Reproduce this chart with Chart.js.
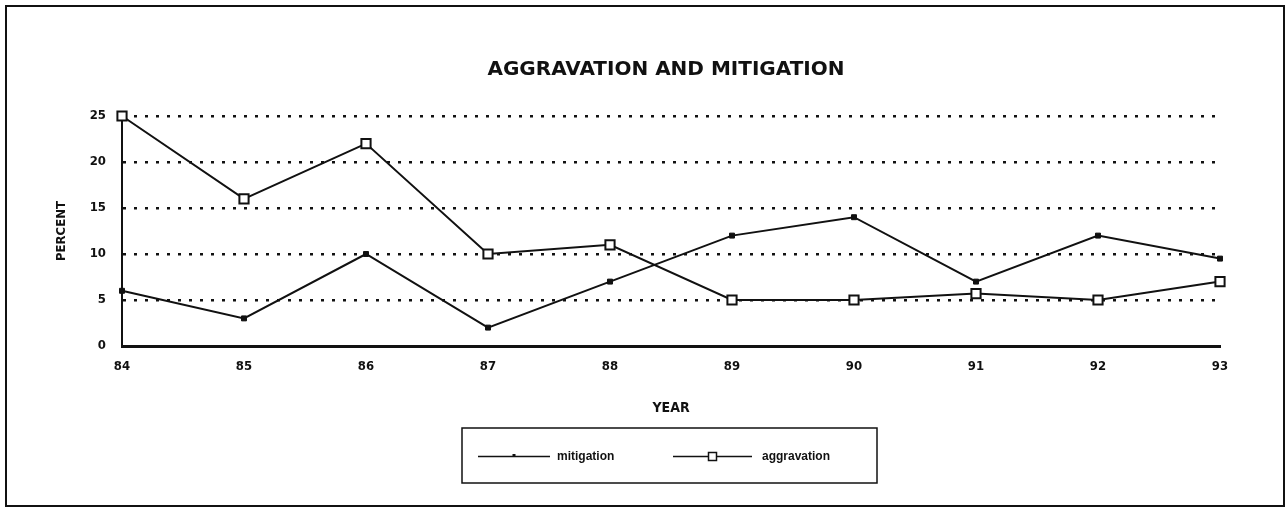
<!DOCTYPE html>
<html>
<head>
<meta charset="utf-8">
<script src="https://cdn.jsdelivr.net/npm/chart.js@4/dist/chart.umd.min.js"></script>
<style>
  html, body { margin: 0; padding: 0; background: #fff; }
  #wrap { position: relative; width: 1286px; height: 509px; }
</style>
</head>
<body>
<div id="wrap"><canvas id="c" width="1286" height="509"></canvas></div>
<script>
const years = ['84', '85', '86', '87', '88', '89', '90', '91', '92', '93'];
const mitigation = [6, 3, 10, 2, 7, 12, 14, 7, 12, 9.5];
const aggravation = [25, 16, 22, 10, 11, 5, 5, 5.7, 5, 7];
const seriesLabels = ['mitigation', 'aggravation'];
const chartTitle = 'AGGRAVATION AND MITIGATION';
const xTitle = 'YEAR';
const yTitle = 'PERCENT';

const narrow = "'Liberation Sans Narrow', 'DejaVu Sans Condensed', 'DejaVu Sans', sans-serif";

const framePlugin = {
  id: 'frame',
  afterDraw(chart) {
    const ctx = chart.ctx;
    ctx.save();
    // outer border
    ctx.strokeStyle = '#111';
    ctx.lineWidth = 2;
    ctx.strokeRect(6, 6, 1278, 500);
    // title
    ctx.fillStyle = '#111';
    ctx.font = "bold 20px 'DejaVu Sans', sans-serif";
    ctx.textAlign = 'center';
    ctx.textBaseline = 'middle';
    ctx.fillText(chartTitle, 666, 70);
    ctx.textAlign = 'left';
    // legend box
    const bx = 462, by = 428, bw = 415, bh = 55;
    ctx.lineWidth = 1.5;
    ctx.strokeRect(bx, by, bw, bh);
    const cy = by + bh / 2 + 1;
    const ds = chart.data.datasets;
    const entries = [
      { x1: 478, x2: 550, tx: 557, ds: ds[0] },
      { x1: 673, x2: 752, tx: 762, ds: ds[1] }
    ];
    ctx.font = "bold 12px 'Liberation Sans', sans-serif";
    ctx.textBaseline = 'middle';
    ctx.fillStyle = '#111';
    entries.forEach(e => {
      ctx.strokeStyle = '#111';
      ctx.lineWidth = 1.5;
      ctx.beginPath();
      ctx.moveTo(e.x1, cy);
      ctx.lineTo(e.x2, cy);
      ctx.stroke();
      const mx = (e.x1 + e.x2) / 2;
      const s = e.ds.legendMarker;
      if (e.ds.pointBackgroundColor === '#ffffff') {
        ctx.fillStyle = '#fff';
        ctx.fillRect(mx - s / 2, cy - s / 2, s, s);
        ctx.strokeRect(mx - s / 2, cy - s / 2, s, s);
      } else {
        ctx.fillStyle = '#111';
        ctx.fillRect(mx - s / 2, cy - s / 2 - 1, s, s);
      }
      ctx.fillStyle = '#111';
      ctx.fillText(e.ds.label, e.tx, cy);
    });
    ctx.restore();
  }
};

new Chart(document.getElementById('c'), {
  type: 'line',
  data: {
    labels: years,
    datasets: [
      {
        label: seriesLabels[0],
        data: mitigation,
        borderColor: '#111',
        borderWidth: 2,
        pointStyle: 'rect',
        pointRadius: 3.5,
        pointBackgroundColor: '#111',
        pointBorderColor: '#111',
        pointBorderWidth: 1,
        tension: 0,
        clip: false,
        legendMarker: 3
      },
      {
        label: seriesLabels[1],
        data: aggravation,
        borderColor: '#111',
        borderWidth: 2,
        pointStyle: 'rect',
        pointRadius: 6.5,
        pointBackgroundColor: '#ffffff',
        pointBorderColor: '#111',
        pointBorderWidth: 2,
        tension: 0,
        clip: false,
        legendMarker: 8
      }
    ]
  },
  options: {
    responsive: false,
    animation: false,
    layout: { padding: { left: 50, right: 66, top: 116, bottom: 89 } },
    plugins: {
      legend: { display: false },
      tooltip: { enabled: false },
      title: { display: false }
    },
    scales: {
      x: {
        offset: false,
        afterFit(scale) { scale.height = 74; },
        grid: { display: true, drawOnChartArea: false, drawTicks: false, color: 'rgba(0,0,0,0)' },
        border: { display: true, color: '#111', width: 3 },
        ticks: {
          color: '#111',
          padding: 13,
          maxRotation: 0,
          font: { family: narrow, size: 13, weight: 'bold' }
        },
        title: {
          display: true,
          text: xTitle,
          color: '#111',
          font: { family: narrow, size: 14, weight: 'bold' },
          padding: { top: 0, bottom: 3 }
        }
      },
      y: {
        min: 0,
        max: 25,
        afterFit(scale) { scale.width = 72; },
        grid: {
          display: true,
          drawTicks: false,
          color: (ctx) => ctx.tick && ctx.tick.value === 0 ? 'rgba(0,0,0,0)' : '#111',
          lineWidth: 2.5
        },
        border: { display: true, color: '#111', width: 2, dash: [3, 8] },
        ticks: {
          stepSize: 5,
          color: '#111',
          padding: 16,
          font: { family: narrow, size: 13, weight: 'bold' }
        },
        title: {
          display: true,
          text: yTitle,
          color: '#111',
          font: { family: narrow, size: 13, weight: 'bold' },
          padding: { top: 4, bottom: 0 }
        }
      }
    }
  },
  plugins: [framePlugin]
});
</script>
</body>
</html>
